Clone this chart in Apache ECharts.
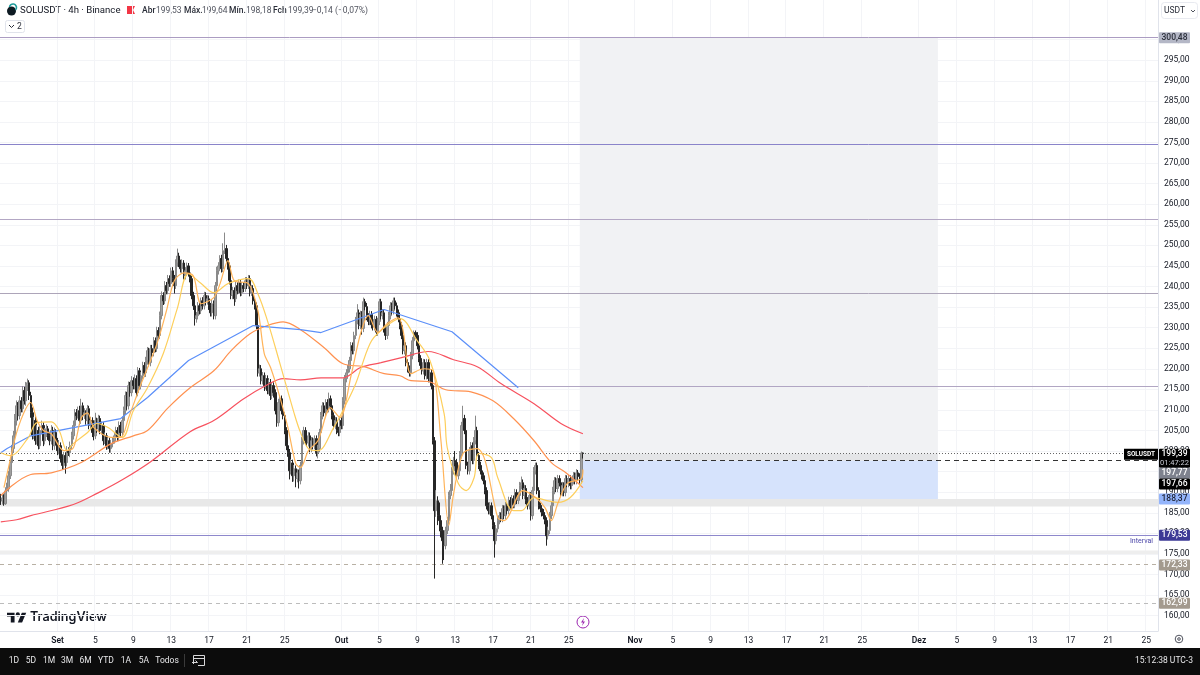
<!DOCTYPE html>
<html>
<head>
<meta charset="utf-8">
<title>SOLUSDT 4h</title>
<style>html,body{margin:0;padding:0;background:#fff}#chart{width:1200px;height:675px}</style>
<script src="https://cdn.jsdelivr.net/npm/echarts@6/dist/echarts.min.js"></script>
</head>
<body>
<div id="chart"></div>
<script>
// SOLUSDT 4h candles, one row per day, starting 26 Aug
const opens = [
188.5,187.9,188.6,187.2,190.3,190.8,
194.0,197.2,200.6,203.7,207.4,211.0,
208.6,212.2,210.3,214.7,212.2,215.9,
216.6,213.5,209.3,203.7,207.4,202.5,
205.0,201.3,205.0,206.2,202.5,204.5,
205.4,203.7,202.5,205.0,201.3,204.5,
202.5,200.1,201.3,198.2,196.5,198.9,
197.2,200.1,199.6,201.3,203.7,206.2,
209.3,208.6,209.8,207.4,211.0,208.6,
209.3,207.4,210.3,206.2,207.4,204.5,
203.7,207.4,205.4,207.9,205.0,206.2,
202.5,203.7,201.3,202.5,200.6,201.8,
202.5,203.7,205.0,203.3,206.2,204.5,
207.4,209.8,213.5,211.0,215.9,214.2,
217.1,215.9,217.6,214.2,219.5,215.9,
218.3,220.8,219.0,222.0,224.4,221.5,
224.9,223.9,226.8,224.9,229.3,228.1,
232.9,237.8,236.5,240.2,239.0,241.9,
240.7,243.8,241.9,240.2,245.7,247.4,
245.7,244.3,245.7,242.6,243.8,245.0,
243.3,241.9,237.8,235.3,232.2,232.9,
235.3,234.1,236.5,235.3,237.8,236.5,
237.0,235.3,233.6,235.8,232.9,240.2,
243.8,245.0,246.8,244.3,248.7,249.2,
246.8,245.0,241.4,237.8,239.0,237.0,
240.2,239.0,240.9,238.5,240.2,239.5,
241.4,240.2,241.9,238.5,239.5,236.5,
235.3,230.5,219.0,220.0,217.1,218.3,
215.9,217.6,214.7,216.6,213.5,215.9,
214.2,209.8,206.9,211.8,212.7,209.8,
208.6,205.0,201.3,199.6,195.2,197.1,
194.0,195.7,193.3,194.7,192.8,196.5,
202.5,205.0,202.5,202.0,203.7,200.6,
202.5,201.3,203.0,199.6,200.6,204.5,
208.6,211.0,209.3,211.8,210.3,212.7,
211.0,208.6,206.2,207.4,205.0,204.5,
207.4,206.2,212.2,217.6,219.0,220.0,
222.0,225.6,224.4,228.1,231.7,233.6,
230.5,233.2,229.8,236.3,235.1,232.7,
231.5,233.2,230.7,230.2,232.0,228.9,
231.5,236.3,232.9,233.6,229.7,228.1,
230.5,232.9,235.3,234.1,236.5,235.3,
233.6,232.2,230.5,228.1,224.4,225.6,
221.5,220.0,219.0,223.2,226.8,228.8,
228.1,225.6,222.5,220.8,219.5,221.5,
218.3,221.5,217.6,219.0,215.9,202.5,
185.5,187.9,184.3,183.1,180.7,178.2,
177.0,180.7,183.1,189.2,190.4,195.2,
197.7,197.2,194.0,195.2,199.1,206.2,
207.9,205.0,196.5,195.2,200.1,201.3,
197.7,202.5,205.0,198.9,196.5,195.2,
194.0,192.8,190.4,186.7,185.5,186.7,
184.3,181.9,178.2,181.1,183.1,184.3,
183.6,186.0,184.3,186.7,185.5,188.0,
186.7,188.4,187.0,189.9,188.0,189.2,
191.6,192.3,189.2,190.9,188.0,186.7,
189.2,184.3,190.4,195.2,196.5,190.4,
186.7,186.0,185.0,184.3,183.1,179.4,
180.7,184.3,186.7,190.4,192.8,190.9,
193.3,192.3,189.9,191.6,189.9,193.3,
192.1,193.3,191.6,192.8,194.0,192.8,
194.7,193.8,193.0,199.53
];
const closes = [
187.9,188.6,187.2,190.3,190.8,194.0,
197.2,200.6,203.7,207.4,211.0,208.6,
212.2,210.3,214.7,212.2,215.9,216.6,
213.5,209.3,203.7,207.4,202.5,205.0,
201.3,205.0,206.2,202.5,204.5,205.4,
203.7,202.5,205.0,201.3,204.5,202.5,
200.1,201.3,198.2,196.5,198.9,197.2,
200.1,199.6,201.3,203.7,206.2,209.3,
208.6,209.8,207.4,211.0,208.6,209.3,
207.4,210.3,206.2,207.4,204.5,203.7,
207.4,205.4,207.9,205.0,206.2,202.5,
203.7,201.3,202.5,200.6,201.8,202.5,
203.7,205.0,203.3,206.2,204.5,207.4,
209.8,213.5,211.0,215.9,214.2,217.1,
215.9,217.6,214.2,219.5,215.9,218.3,
220.8,219.0,222.0,224.4,221.5,224.9,
223.9,226.8,224.9,229.3,228.1,232.9,
237.8,236.5,240.2,239.0,241.9,240.7,
243.8,241.9,240.2,245.7,247.4,245.7,
244.3,245.7,242.6,243.8,245.0,243.3,
241.9,237.8,235.3,232.2,232.9,235.3,
234.1,236.5,235.3,237.8,236.5,237.0,
235.3,233.6,235.8,232.9,240.2,243.8,
245.0,246.8,244.3,248.7,249.2,246.8,
245.0,241.4,237.8,239.0,237.0,240.2,
239.0,240.9,238.5,240.2,239.5,241.4,
240.2,241.9,238.5,239.5,236.5,235.3,
230.5,219.0,220.0,217.1,218.3,215.9,
217.6,214.7,216.6,213.5,215.9,214.2,
209.8,206.9,211.8,212.7,209.8,208.6,
205.0,201.3,199.6,195.2,197.1,194.0,
195.7,193.3,194.7,192.8,196.5,202.5,
205.0,202.5,202.0,203.7,200.6,202.5,
201.3,203.0,199.6,200.6,204.5,208.6,
211.0,209.3,211.8,210.3,212.7,211.0,
208.6,206.2,207.4,205.0,204.5,207.4,
206.2,212.2,217.6,219.0,220.0,222.0,
225.6,224.4,228.1,231.7,233.6,230.5,
233.2,229.8,236.3,235.1,232.7,231.5,
233.2,230.7,230.2,232.0,228.9,231.5,
236.3,232.9,233.6,229.7,228.1,230.5,
232.9,235.3,234.1,236.5,235.3,233.6,
232.2,230.5,228.1,224.4,225.6,221.5,
220.0,219.0,223.2,226.8,228.8,228.1,
225.6,222.5,220.8,219.5,221.5,218.3,
221.5,217.6,219.0,215.9,202.5,185.5,
187.9,184.3,183.1,180.7,178.2,177.0,
180.7,183.1,189.2,190.4,195.2,197.7,
197.2,194.0,195.2,199.1,206.2,207.9,
205.0,196.5,195.2,200.1,201.3,197.7,
202.5,205.0,198.9,196.5,195.2,194.0,
192.8,190.4,186.7,185.5,186.7,184.3,
181.9,178.2,181.1,183.1,184.3,183.6,
186.0,184.3,186.7,185.5,188.0,186.7,
188.4,187.0,189.9,188.0,189.2,191.6,
192.3,189.2,190.9,188.0,186.7,189.2,
184.3,190.4,195.2,196.5,190.4,186.7,
186.0,185.0,184.3,183.1,179.4,180.7,
184.3,186.7,190.4,192.8,190.9,193.3,
192.3,189.9,191.6,189.9,193.3,192.1,
193.3,191.6,192.8,194.0,192.8,194.7,
193.8,193.0,199.53,199.39
];
const highs = [
189.6,189.4,189.5,191.2,192.3,195.2,
198.4,201.5,204.9,209.0,212.3,211.9,
213.4,213.1,215.8,215.6,216.8,217.6,
217.2,214.4,210.6,208.3,208.4,206.3,
205.9,206.2,207.4,207.0,205.6,206.5,
206.1,204.6,206.3,205.9,205.7,205.3,
203.2,202.4,202.1,199.2,199.8,199.7,
201.2,200.9,202.3,204.7,207.4,210.2,
210.2,210.8,211.0,212.7,211.8,210.4,
209.9,211.2,211.0,208.3,208.2,205.3,
209.3,208.1,208.8,208.6,207.2,207.0,
204.5,204.4,203.3,203.2,202.7,203.4,
204.6,205.9,205.8,207.2,207.1,208.4,
210.8,214.5,214.4,216.9,216.8,218.2,
217.9,218.6,218.4,220.4,220.2,219.2,
221.7,221.6,222.9,225.3,225.1,225.8,
225.8,227.7,227.6,230.2,230.1,233.9,
238.8,238.6,241.3,241.1,242.8,242.7,
244.6,244.7,242.8,246.6,249.2,248.2,
246.5,246.6,246.4,244.7,245.8,245.7,
244.0,242.6,238.7,236.2,233.8,236.2,
236.1,237.3,237.4,238.7,238.6,237.9,
237.8,236.0,236.7,236.6,241.1,244.8,
245.9,247.6,247.7,250.5,253.1,250.1,
247.5,245.8,242.2,239.9,239.8,241.1,
241.0,241.7,241.7,241.0,241.0,242.3,
242.2,242.8,242.7,240.4,240.3,237.4,
236.1,231.3,221.0,220.9,219.2,219.1,
218.5,218.4,217.4,217.5,216.7,216.7,
215.0,210.6,212.7,213.6,213.5,210.6,
209.4,205.8,202.2,200.5,198.0,197.9,
196.6,196.5,195.6,195.5,197.4,203.4,
205.9,205.8,203.3,204.6,204.5,203.4,
203.3,203.8,203.8,201.5,205.4,209.5,
211.9,211.8,212.6,212.6,214.2,213.5,
211.8,209.4,208.3,208.2,205.9,208.3,
208.2,213.1,218.5,219.9,220.9,222.9,
226.5,226.4,229.0,232.6,235.7,234.4,
234.1,234.0,237.3,237.0,236.0,233.5,
234.1,234.0,231.6,232.9,232.8,232.4,
237.0,237.0,234.5,234.4,230.5,231.4,
233.8,236.2,236.1,237.3,237.3,236.1,
234.4,233.0,231.3,228.9,226.5,226.4,
222.3,220.8,224.1,227.7,229.3,229.3,
228.9,226.4,223.3,221.6,222.4,222.3,
222.4,222.3,219.9,219.9,216.8,203.4,
190.5,189.0,187.5,184.0,181.6,179.1,
181.6,184.0,190.1,192.0,196.1,198.6,
200.0,198.1,196.5,200.0,207.1,211.0,
208.8,205.9,197.4,201.0,202.2,202.1,
203.4,208.6,205.9,199.8,197.4,196.0,
194.8,193.6,191.2,187.5,187.6,187.5,
185.1,182.7,182.0,184.0,185.2,185.1,
186.9,186.8,187.6,187.5,188.9,188.8,
189.3,189.2,190.8,190.7,190.1,192.5,
193.8,193.1,191.8,191.7,188.8,190.1,
190.0,191.3,196.1,197.2,197.2,191.2,
187.5,186.8,185.9,185.1,183.9,181.6,
185.2,187.6,191.3,193.7,193.6,194.2,
194.1,193.1,192.5,192.4,194.2,194.1,
194.2,194.1,193.7,194.9,194.8,195.6,
195.4,194.6,199.9,199.64
];
const lows = [
186.9,187.0,186.7,186.9,189.4,190.1,
193.2,196.3,199.5,202.4,206.2,207.5,
207.7,209.4,209.4,211.3,211.0,214.6,
212.4,208.1,202.8,202.9,201.5,201.6,
200.4,200.5,204.1,201.2,201.6,203.4,
202.7,201.4,201.6,200.2,200.3,201.4,
199.0,199.2,197.2,195.4,195.6,194.5,
196.3,198.8,198.5,200.4,202.8,205.3,
207.5,207.9,206.3,206.6,207.5,207.8,
206.4,206.5,205.3,205.2,203.4,202.6,
202.9,204.4,204.6,204.1,204.0,201.4,
201.7,200.3,200.4,199.6,199.6,200.9,
201.8,202.8,202.4,202.4,203.5,203.6,
206.5,208.9,210.0,210.1,213.2,213.3,
215.0,215.0,213.1,213.3,215.0,215.0,
217.4,218.1,218.0,221.0,220.6,220.6,
222.9,223.0,224.0,224.1,227.2,227.2,
232.0,235.5,235.7,238.1,238.1,239.9,
239.9,241.0,238.3,239.4,244.8,244.7,
243.4,243.3,241.7,241.7,243.0,242.4,
241.0,236.9,234.3,230.5,231.2,232.0,
233.2,233.3,234.4,234.4,235.5,235.6,
234.3,232.7,232.7,232.0,232.0,239.4,
242.9,244.1,243.4,243.5,247.9,246.0,
244.1,240.5,236.9,236.9,235.3,236.2,
238.1,238.2,237.6,237.7,238.6,238.7,
239.4,239.4,237.6,237.7,235.6,234.4,
229.6,218.1,218.1,216.2,216.2,214.6,
215.0,213.8,213.8,212.4,212.6,213.0,
208.9,205.9,206.0,210.9,208.9,207.7,
204.1,200.2,198.6,193.1,194.3,192.5,
192.6,191.2,192.4,190.9,191.9,195.6,
201.6,201.6,201.1,201.1,199.7,199.7,
200.4,200.4,198.7,198.2,199.7,203.6,
207.7,208.4,208.4,209.4,209.4,210.1,
207.7,205.3,205.3,204.1,203.6,203.6,
205.3,205.3,211.3,216.7,218.1,219.1,
221.1,223.5,223.5,227.2,230.8,229.6,
229.6,228.3,228.9,234.2,231.8,230.6,
230.6,229.8,229.3,229.3,228.0,228.0,
230.6,232.0,232.0,228.8,227.0,227.2,
229.6,232.0,233.2,233.2,234.4,232.7,
231.3,229.6,227.2,223.5,223.5,220.6,
219.1,218.1,218.1,222.3,225.9,227.2,
224.7,221.6,219.9,218.6,218.6,217.4,
217.4,216.7,216.7,215.0,201.6,169.0,
184.0,182.0,180.5,179.0,172.6,173.5,
176.1,179.8,182.2,188.3,189.5,194.3,
196.3,193.1,193.1,194.3,198.2,205.3,
204.1,195.6,194.3,194.3,199.2,196.8,
196.8,201.6,198.0,195.6,194.3,193.1,
191.9,189.5,185.8,184.6,184.6,183.4,
181.0,174.1,177.3,180.2,182.2,182.7,
182.7,183.4,183.4,184.6,184.6,185.8,
185.8,186.1,186.1,187.1,187.1,188.3,
190.7,188.3,188.3,187.1,185.8,185.8,
183.1,183.4,189.5,194.3,189.5,185.8,
185.1,184.1,183.4,182.2,177.0,178.5,
179.8,183.4,185.8,189.5,190.0,190.0,
191.4,189.0,189.0,189.0,189.0,191.2,
191.2,190.7,190.7,191.9,191.9,191.9,
192.9,192.1,192.1,198.18
];

// Moving averages: bar index and value at the turning points of each curve
const redBars = [0,10,19,46,62,77,95,120,135,154,169,179,190,203,217,228,241,254,271,287,302,317,338,355,369];
const redValues = [182.8,183.3,184.3,187.0,189.9,193.0,197.4,204.7,207.4,212.7,216.1,217.6,217.3,217.8,217.8,220.3,221.5,222.7,224.2,222.2,220.5,216.4,211.5,206.7,204.2];
const orangeBars = [0,19,32,51,70,84,93,106,120,135,146,158,169,179,190,205,217,230,243,253,260,271,282,298,312,325,338,349,359,369];
const orangeValues = [189.2,194.3,194.7,197.2,201.8,203.7,205.0,210.5,215.4,219.5,224.4,228.5,230.5,231.4,229.5,225.1,221.2,220.5,218.8,218.3,217.1,216.9,214.9,214.4,212.2,207.9,202.5,197.2,194.5,191.1];
const blueBars = [0,4,19,46,76,93,119,160,190,203,243,286,328];
const blueValues = [199.6,200.6,203.7,205.7,207.9,213.0,222.0,230.5,229.5,228.8,234.4,229.0,215.4];
const yellowBars = [0,6,17,23,32,37,42,46,55,61,68,77,84,93,103,112,119,127,135,144,157,163,169,177,186,190,195,201,211,219,225,234,241,253,264,272,281,283,290,295,300,303,311,315,325,330,338,347,353,361,369];
const yellowValues = [199.6,198.9,203.0,206.9,207.1,205.0,200.1,201.8,204.5,206.7,205.7,203.3,209.8,215.4,223.7,234.8,243.1,240.7,238.5,240.7,241.9,238.2,231.7,221.2,209.1,204.5,200.6,200.1,205.7,211.5,216.4,226.1,229.3,232.2,226.8,222.0,209.1,200.8,192.1,190.4,193.5,199.4,198.4,193.5,185.5,185.5,188.7,187.9,187.5,188.7,192.8];
const amberBars = [2,4,11,19,23,27,32,40,46,51,55,59,70,76,81,89,99,105,110,116,122,127,135,139,144,148,157,163,167,171,177,182,187,190,195,201,209,215,222,228,233,239,245,252,255,260,268,274,279,284,287,293,302,307,315,319,331,339,345,349,353,359,368,369];
const amberValues = [191.1,194.5,205.7,211.8,207.4,205.0,204.2,200.1,200.8,208.1,209.3,205.7,203.3,203.3,208.1,216.4,226.1,234.1,241.4,243.3,242.6,235.8,237.3,240.7,246.3,241.4,240.7,234.1,223.7,220.3,213.0,205.7,196.9,196.0,200.1,202.5,210.5,208.1,218.3,228.5,232.9,228.8,231.0,232.4,229.3,218.8,220.0,219.5,202.5,181.9,189.6,199.4,200.6,197.7,183.8,183.1,190.4,188.7,186.2,183.1,187.2,192.1,193.3,195.5];

// Axis ticks
const barCount = 734;
const dayTickBars = [36,60,84,108,132,156,180,216,240,264,288,312,336,360,402,426,450,474,498,522,546,582,606,630,654,678,702,726];
const dayTickLabels = ['Set','5','9','13','17','21','25','Out','5','9','13','17','21','25','Nov','5','9','13','17','21','25','Dez','5','9','13','17','21','25'];
const monthLabels = ['Set','Out','Nov','Dez'];
const priceTicks = [160,165,170,175,180,185,190,195,200,205,210,215,220,225,230,235,240,245,250,255,260,265,270,275,280,285,290,295,300];

// Horizontal levels drawn across the pane
const solidLevels = [300.48,274.46,256.2,238.25,215.65,179.53];
const solidLevelColors = ['#ab9cc2','#8a84ca','#b3a7c4','#ada5b9','#b1a6c3','#8e88cc'];
const markedLevels = [199.39,197.66,172.33,162.99];
const markedLevelColors = ['#666666','#333333','#b8b0a4','#bcbcbc'];
const markedLevelDash = [[1,2],[5,4],[4,4],[4,4]];

// Shaded zones
const bandTops = [188.37,175.8];
const bandBottoms = [186.5,175.0];
const zoneBars = [367,594];
const zoneTops = [300.48,199.39,197.66];
const zoneBottoms = [199.39,197.66,188.37];
const zoneColors = ['#f1f2f4','#e4e5e7','#d6e3fc'];

// Price tags on the axis: printed value, price the tag sits at, colours
const tagValues = [300.48,199.39,197.77,197.66,188.37,179.53,172.33,162.99];
const tagAnchors = [300.48,199.2,194.6,192.0,188.37,179.53,172.33,162.99];
const tagFills = ['#b4b7c6','#000000','#7e828e','#000000','#93b4fb','#3d3a96','#a39a8e','#a39a8e'];
const tagInks = ['#2a2e39','#ffffff','#ffffff','#ffffff','#1c2030','#ffffff','#ffffff','#ffffff'];

const decimalComma = v => v.toFixed(2).replace('.', ',');
const pairs = (xs, ys) => xs.map((x, i) => [x, ys[i]]);
const categories = Array.from({length: barCount}, (_, i) => String(i));
const candles = closes.map((c, i) => [opens[i], closes[i], lows[i], highs[i]]);
const tickLabelOf = new Map(dayTickBars.map((b, i) => [b, dayTickLabels[i]]));
const isDayTick = i => tickLabelOf.has(i);
const FONT = 'Roboto, sans-serif';

const chart = echarts.init(document.getElementById('chart'));

function maLine(name, bars, values, color, smooth) {
  return {name, type: 'line', data: pairs(bars, values), smooth, showSymbol: false, symbol: 'none', z: 5,
    lineStyle: {color, width: 1.2}, silent: true, animation: false};
}

const option = {
  animation: false,
  backgroundColor: '#ffffff',
  grid: {left: 0, right: 42, top: 0, bottom: 44},
  xAxis: {
    type: 'category', data: categories, boundaryGap: true,
    axisLine: {lineStyle: {color: '#e0e3eb'}}, axisTick: {show: false},
    splitLine: {show: true, interval: isDayTick, lineStyle: {color: '#f3f4f7', width: 1}},
    axisLabel: {
      interval: isDayTick, margin: 5, color: '#131722', fontFamily: FONT, fontSize: 8.5,
      formatter: (v, i) => {
        const t = tickLabelOf.get(i) || '';
        return monthLabels.includes(t) ? '{m|' + t + '}' : t;
      },
      rich: {m: {fontFamily: FONT, fontSize: 8.5, fontWeight: 600, color: '#131722'}}
    }
  },
  yAxis: {
    type: 'value', position: 'right', min: 156.26, max: 309.63, scale: true,
    axisLine: {show: true, lineStyle: {color: '#e0e3eb'}},
    axisTick: {show: false, customValues: priceTicks},
    splitLine: {show: true, lineStyle: {color: '#f3f4f7', width: 1}},
    axisLabel: {customValues: priceTicks, margin: 6, color: '#131722', fontFamily: FONT, fontSize: 8.5, formatter: decimalComma}
  },
  series: [
    {
      // Trade zones and horizontal shaded bands
      type: 'custom', z: 1, silent: true, data: [[0, 0]],
      renderItem: (params, api) => {
        const g = params.coordSys, children = [];
        bandTops.forEach((top, i) => {
          const y0 = api.coord([0, top])[1], y1 = api.coord([0, bandBottoms[i]])[1];
          children.push({type: 'rect', shape: {x: g.x, y: y0, width: g.width, height: y1 - y0}, style: {fill: i ? '#eeeeee' : '#e8e8e8'}});
        });
        const x0 = api.coord([zoneBars[0], 200])[0], x1 = api.coord([zoneBars[1], 200])[0];
        zoneTops.forEach((top, i) => {
          const y0 = api.coord([0, top])[1], y1 = api.coord([0, zoneBottoms[i]])[1];
          children.push({type: 'rect', shape: {x: x0, y: y0, width: x1 - x0, height: y1 - y0}, style: {fill: zoneColors[i]}});
        });
        return {type: 'group', children};
      }
    },
    {
      // Horizontal levels
      type: 'custom', z: 2, silent: true, data: [[0, 0]],
      renderItem: (params, api) => {
        const g = params.coordSys, children = [];
        const row = p => Math.floor(api.coord([0, p])[1]) + 0.5;
        solidLevels.forEach((p, i) => children.push({type: 'line', shape: {x1: g.x, y1: row(p), x2: g.x + g.width, y2: row(p)},
          style: {stroke: solidLevelColors[i], lineWidth: 1}}));
        markedLevels.forEach((p, i) => children.push({type: 'line', shape: {x1: g.x, y1: row(p), x2: g.x + g.width, y2: row(p)},
          style: {stroke: markedLevelColors[i], lineWidth: 1, lineDash: markedLevelDash[i]}}));
        children.push({type: 'text', style: {x: g.x + g.width - 5, y: row(179.53) + 6, text: 'Interval', align: 'right', verticalAlign: 'middle',
          fill: '#4a45a8', font: '7px ' + FONT}});
        return {type: 'group', children};
      }
    },
    {
      name: 'SOLUSDT', type: 'candlestick', z: 3, data: candles, barWidth: 2, silent: true,
      itemStyle: {color: '#a0a0a0', color0: '#262626', borderColor: '#8a8a8a', borderColor0: '#262626', borderWidth: 1}
    },
    maLine('MA longa', redBars, redValues, '#f7525f', 0.35),
    maLine('MA média', orangeBars, orangeValues, '#ff9150', 0.35),
    maLine('MA lenta', blueBars, blueValues, '#5b8ff9', 0),
    maLine('MA 21', yellowBars, yellowValues, '#fdcf5c', 0.35),
    maLine('MA 9', amberBars, amberValues, '#ffb45a', 0.3),
    {
      // Price tags on the right-hand scale
      type: 'custom', z: 20, silent: true, data: [[0, 0]],
      renderItem: (params, api) => {
        const g = params.coordSys, children = [], left = g.x + g.width + 1;
        tagValues.forEach((v, i) => {
          const y = api.coord([0, tagAnchors[i]])[1], two = i === 1;
          children.push({type: 'rect', shape: {x: left, y: y - 5.5, width: 31, height: two ? 19 : 11, r: 1}, style: {fill: tagFills[i]}});
          children.push({type: 'text', style: {x: left + 15.5, y, text: decimalComma(v), align: 'center', verticalAlign: 'middle', fill: tagInks[i], font: '500 8.5px ' + FONT}});
          if (two) {
            children.push({type: 'text', style: {x: left + 15.5, y: y + 9, text: '01:47:22', align: 'center', verticalAlign: 'middle', fill: '#c8cbd4', font: '7.5px ' + FONT}});
            children.push({type: 'rect', shape: {x: g.x + g.width - 34, y: y - 5.5, width: 34, height: 11}, style: {fill: '#000000'}});
            children.push({type: 'text', style: {x: g.x + g.width - 17, y, text: 'SOLUSDT', align: 'center', verticalAlign: 'middle', fill: '#ffffff', font: '700 6.5px ' + FONT}});
          }
        });
        return {type: 'group', children};
      }
    }
  ],
  graphic: {elements: [
    // Symbol and OHLC legend
    {type: 'circle', shape: {cx: 11.5, cy: 11, r: 4.5}, style: {fill: '#0e1a22'}, silent: true},
    {type: 'arc', shape: {cx: 13, cy: 7.5, r: 3.5, startAngle: -3, endAngle: 0.8}, style: {stroke: '#1c9a9a', fill: 'none', lineWidth: 1.6}, silent: true},
    {type: 'text', style: {x: 20, y: 10.5, text: 'SOLUSDT · 4h · Binance', fill: '#131722', font: '9.6px ' + FONT, verticalAlign: 'middle'}},
    {type: 'polygon', shape: {points: [[127, 6], [135, 6], [133, 10], [135, 14], [127, 14]]}, style: {fill: '#f23645'}, silent: true},
    {type: 'text', style: {x: 142, y: 10.5, text: 'Abr', fill: '#2a2e39', font: '500 8.5px ' + FONT, verticalAlign: 'middle'}},
    {type: 'text', style: {x: 156, y: 10.5, text: '199,53', fill: '#50535e', font: '8.5px ' + FONT, verticalAlign: 'middle'}},
    {type: 'text', style: {x: 184, y: 10.5, text: 'Máx.', fill: '#2a2e39', font: '500 8.5px ' + FONT, verticalAlign: 'middle'}},
    {type: 'text', style: {x: 202, y: 10.5, text: '199,64', fill: '#50535e', font: '8.5px ' + FONT, verticalAlign: 'middle'}},
    {type: 'text', style: {x: 229, y: 10.5, text: 'Mín.', fill: '#2a2e39', font: '500 8.5px ' + FONT, verticalAlign: 'middle'}},
    {type: 'text', style: {x: 246, y: 10.5, text: '198,18', fill: '#50535e', font: '8.5px ' + FONT, verticalAlign: 'middle'}},
    {type: 'text', style: {x: 273, y: 10.5, text: 'Fch', fill: '#2a2e39', font: '500 8.5px ' + FONT, verticalAlign: 'middle'}},
    {type: 'text', style: {x: 288, y: 10.5, text: '199,39', fill: '#50535e', font: '8.5px ' + FONT, verticalAlign: 'middle'}},
    {type: 'text', style: {x: 312, y: 10.5, text: '−0,14 (−0,07%)', fill: '#50535e', font: '8.5px ' + FONT, verticalAlign: 'middle'}},
    // Collapsed indicators button
    {type: 'rect', shape: {x: 5.5, y: 20.5, width: 19, height: 12, r: 2}, style: {fill: '#fff', stroke: '#e0e3eb'}, silent: true},
    {type: 'polyline', shape: {points: [[9, 25], [11.5, 27.5], [14, 25]]}, style: {stroke: '#2a2e39', fill: 'none', lineWidth: 1}, silent: true},
    {type: 'text', style: {x: 17, y: 26.5, text: '2', fill: '#2a2e39', font: '8.5px ' + FONT, verticalAlign: 'middle'}},
    // Currency selector
    {type: 'rect', shape: {x: 1161.5, y: 2.5, width: 36, height: 16, r: 3}, style: {fill: '#fff', stroke: '#e8eaf0'}, silent: true},
    {type: 'text', style: {x: 1164, y: 10.5, text: 'USDT', fill: '#2a2e39', font: '8.5px ' + FONT, verticalAlign: 'middle'}},
    {type: 'polyline', shape: {points: [[1191, 10], [1193, 12], [1195, 10]]}, style: {stroke: '#50535e', fill: 'none', lineWidth: 1}, silent: true},
    // Watermark
    {type: 'polygon', shape: {points: [[14.56, 622.4], [10.78, 622.4], [10.78, 616.4], [7, 616.4], [7, 612.7], [14.56, 612.7]]}, style: {fill: '#131722'}, silent: true},
    {type: 'polygon', shape: {points: [[22.1, 622.4], [17.8, 622.4], [21.85, 612.7], [26.2, 612.7]]}, style: {fill: '#131722'}, silent: true},
    {type: 'circle', shape: {cx: 17.8, cy: 614.4, r: 2.1}, style: {fill: '#131722'}, silent: true},
    {type: 'text', style: {x: 30, y: 617.5, text: 'TradingView', fill: '#131722', font: '600 12.6px Inter, sans-serif', verticalAlign: 'middle'}},
    // Session-break marker
    {type: 'circle', shape: {cx: 583, cy: 622, r: 6}, style: {fill: '#fff', stroke: '#9c27b0', lineWidth: 1}, silent: true},
    {type: 'polygon', shape: {points: [[584, 618], [581, 622.5], [583, 622.5], [582, 626], [585, 621.5], [583, 621.5]]}, style: {fill: '#9c27b0'}, silent: true},
    // Settings glyph under the price scale
    {type: 'circle', shape: {cx: 1179, cy: 639, r: 3.8}, style: {fill: 'none', stroke: '#50535e', lineWidth: 1}, silent: true},
    {type: 'circle', shape: {cx: 1179, cy: 639, r: 1.3}, style: {fill: 'none', stroke: '#50535e', lineWidth: 1}, silent: true},
    // Bottom toolbar
    {type: 'rect', shape: {x: 0, y: 648, width: 1200, height: 27}, style: {fill: '#0c0c0c'}, silent: true},
    ...[['1D', 14], ['5D', 31], ['1M', 49], ['3M', 67], ['6M', 85.5], ['YTD', 106], ['1A', 126], ['5A', 144], ['Todos', 167]].map(([text, x]) =>
      ({type: 'text', style: {x, y: 660.5, text, align: 'center', verticalAlign: 'middle', fill: '#e8e8ea', font: '8.5px ' + FONT}})),
    {type: 'line', shape: {x1: 184.5, y1: 654, x2: 184.5, y2: 667}, style: {stroke: '#3a3a3a'}, silent: true},
    {type: 'polyline', shape: {points: [[193.5, 664], [193.5, 655.5], [204.5, 655.5], [204.5, 665.5], [198, 665.5]]}, style: {fill: 'none', stroke: '#d8d8da', lineWidth: 1}, silent: true},
    {type: 'line', shape: {x1: 193.5, y1: 658.5, x2: 204.5, y2: 658.5}, style: {stroke: '#d8d8da'}, silent: true},
    {type: 'polyline', shape: {points: [[192, 662.5], [197.5, 662.5], [195.5, 660.5]]}, style: {fill: 'none', stroke: '#d8d8da', lineWidth: 1}, silent: true},
    {type: 'text', style: {x: 1193, y: 660.5, text: '15:12:38 UTC-3', align: 'right', verticalAlign: 'middle', fill: '#e8e8ea', font: '8.5px ' + FONT}}
  ]}
};
chart.setOption(option);
</script>
</body>
</html>
